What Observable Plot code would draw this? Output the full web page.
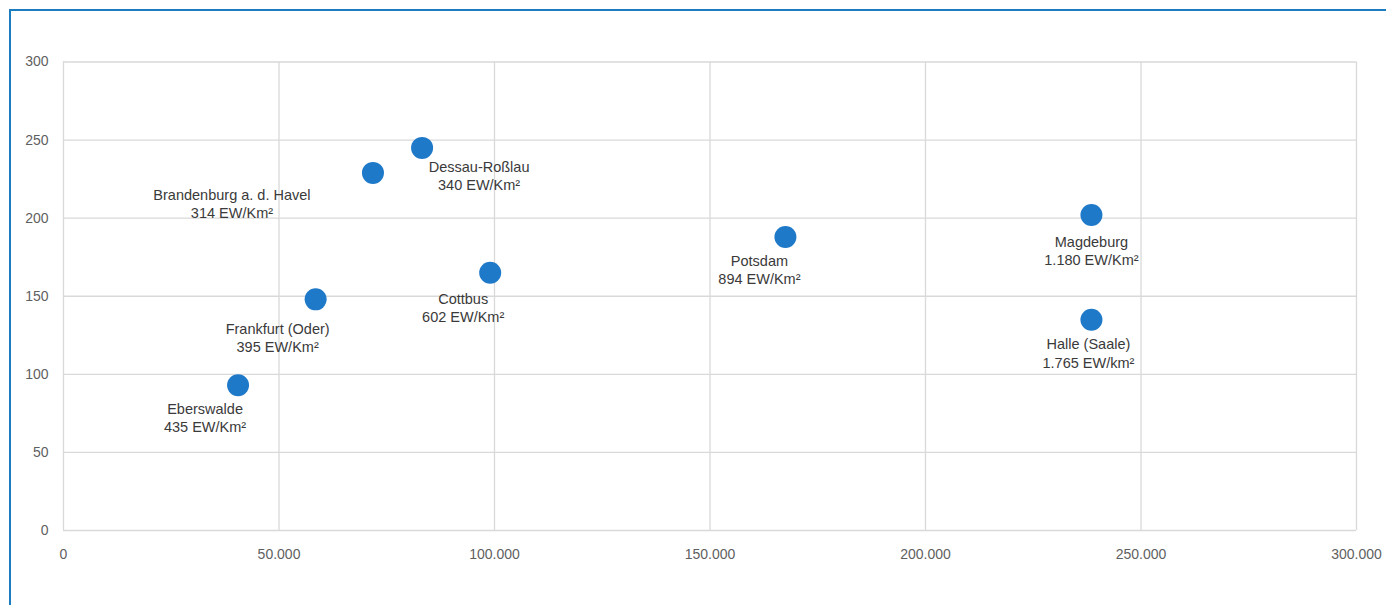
<!DOCTYPE html>
<html>
<head>
<meta charset="utf-8">
<script src="https://cdn.jsdelivr.net/npm/d3@7"></script>
<script src="https://cdn.jsdelivr.net/npm/@observablehq/plot@0.6"></script>
<style>
  html, body { margin: 0; padding: 0; background: #fff; }
  #wrap { position: relative; width: 1386px; height: 605px; overflow: hidden; }
  #frame { position: absolute; left: 9px; top: 9px; width: 1400px; height: 620px;
           border-top: 2px solid #1b7dbf; border-left: 2px solid #1b7dbf; pointer-events: none; }
</style>
</head>
<body>
<div id="wrap"><div id="frame"></div></div>
<script>
// Data
const cities = ["Eberswalde", "Frankfurt (Oder)", "Brandenburg a. d. Havel", "Dessau-Roßlau", "Cottbus", "Potsdam", "Magdeburg", "Halle (Saale)"];
const population = [40500, 58500, 71800, 83200, 99000, 167500, 238500, 238500];
const area = [93, 148, 229, 245, 165, 188, 202, 135];
const densityLabels = ["435 EW/Km²", "395 EW/Km²", "314 EW/Km²", "340 EW/Km²", "602 EW/Km²", "894 EW/Km²", "1.180 EW/Km²", "1.765 EW/km²"];
const xTicks = [0, 50000, 100000, 150000, 200000, 250000, 300000];
const yTicks = [0, 50, 100, 150, 200, 250, 300];

// Label placement (layout only)
const labelDx = [-33, -38, -141, 57, -27, -26, 0, -3];
const labelDy = [32, 38, 30, 27, 34, 32, 35, 33];

const rows = cities.map((c, i) => ({city: c, pop: population[i], area: area[i], label: c + "\n" + densityLabels[i]}));

const de = d3.formatLocale({decimal: ",", thousands: ".", grouping: [3], currency: ["", " €"]});
const fmt = de.format(",");

const font = "'Liberation Sans', Arial, sans-serif";

const textMarks = rows.map((r, i) => Plot.text([r], {
  x: "pop", y: "area", text: "label",
  dx: labelDx[i], dy: labelDy[i],
  textAnchor: "middle", lineAnchor: "middle", lineHeight: 1.25,
  fontSize: 14.5, fill: "#3a3a3a", fontFamily: font
}));

const chart = Plot.plot({
  width: 1386,
  height: 605,
  marginLeft: 63,
  marginRight: 30,
  marginTop: 61.5,
  marginBottom: 75,
  style: {fontFamily: font, background: "transparent"},
  x: {domain: [0, 300000], ticks: xTicks, tickFormat: fmt, label: null},
  y: {domain: [0, 300], ticks: yTicks, label: null},
  marks: [
    Plot.gridX(xTicks, {stroke: "#d9d9d9", strokeOpacity: 1, strokeWidth: 1.3}),
    Plot.gridY(yTicks, {stroke: "#d9d9d9", strokeOpacity: 1, strokeWidth: 1.3}),
    Plot.axisX(xTicks, {tickSize: 0, tickPadding: 19, tickFormat: fmt, fontSize: 14, fill: "#5f5f5f", label: null}),
    Plot.axisY(yTicks, {tickSize: 0, tickPadding: 15, fontSize: 14, fill: "#5f5f5f", label: null}),
    Plot.dot(rows, {x: "pop", y: "area", r: 11, fill: "#1f79c9", stroke: "none"}),
    ...textMarks
  ]
});
chart.style.position = "absolute";
chart.style.left = "0px";
chart.style.top = "0px";
document.getElementById("wrap").insertBefore(chart, document.getElementById("frame"));
</script>
</body>
</html>
